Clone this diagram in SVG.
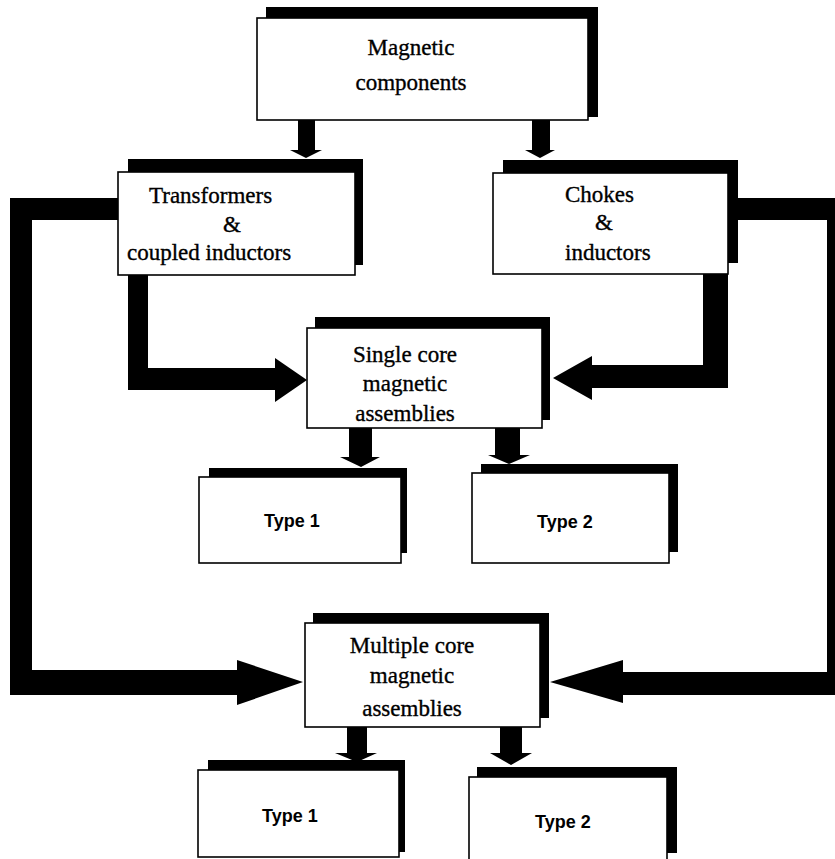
<svg xmlns="http://www.w3.org/2000/svg" width="835" height="859" viewBox="0 0 835 859">
  <style>
    .shadow { fill: #000; }
    .box { fill: #fff; stroke: #000; stroke-width: 1.6; }
    .serif { font-family: "Liberation Serif", "Times New Roman", serif; font-size: 23px; fill: #000; stroke: #000; stroke-width: 0.35; }
    .sans { font-family: "Liberation Sans", Arial, sans-serif; font-size: 18px; font-weight: bold; fill: #000; }
    .mid { text-anchor: middle; }
    .flow { fill: #000; stroke: none; }
  </style>
  <rect width="835" height="859" fill="#fff"/>

  <!-- thick connectors -->
  <g id="connectors">
    <!-- top box to the two families -->
    <polygon class="flow" points="298,120 315,120 315,150 322,150 306,158 290,150 298,150"/>
    <polygon class="flow" points="532,120 550,120 550,150 555,150 540,158 525,150 532,150"/>
    <!-- transformers to single core -->
    <polygon class="flow" points="128,274 148,274 148,368 275,368 275,358 307,380 275,402 275,390 128,390"/>
    <!-- chokes to single core -->
    <polygon class="flow" points="703,274 728,274 728,388 592,388 592,400 553,378 592,356 592,365 703,365"/>
    <!-- transformers to multiple core (outer loop) -->
    <polygon class="flow" points="118,198 118,220 32,220 32,670 237,670 237,660 303,682 237,705 237,695 10,695 10,198"/>
    <!-- chokes to multiple core (outer loop) -->
    <polygon class="flow" points="728,198 849,198 849,695 623,695 623,703 550,682 623,660 623,672 827,672 827,220 728,220"/>
    <!-- single core to its types -->
    <polygon class="flow" points="349,428 372,428 372,457 380,457 361,467 340,457 349,457"/>
    <polygon class="flow" points="495,428 520,428 520,455 530,455 509,464 488,455 495,455"/>
    <!-- multiple core to its types -->
    <polygon class="flow" points="347,727 367,727 367,753 377,753 357,762 335,753 347,753"/>
    <polygon class="flow" points="500,727 522,727 522,753 532,753 511,765 490,753 500,753"/>
  </g>

  <g id="magnetic-components">
    <rect class="shadow" x="266" y="7" width="332" height="110"/>
    <rect class="box" x="257" y="18" width="331" height="102"/>
    <text class="serif mid" x="411" y="55">Magnetic</text>
    <text class="serif mid" x="411" y="90">components</text>
  </g>

  <g id="transformers">
    <rect class="shadow" x="128" y="159" width="235" height="106"/>
    <rect class="box" x="118" y="172" width="237" height="103"/>
    <text class="serif" x="149" y="203">Transformers</text>
    <text class="serif" x="223" y="232">&amp;</text>
    <text class="serif" x="127" y="260">coupled inductors</text>
  </g>

  <g id="chokes">
    <rect class="shadow" x="503" y="160" width="235" height="103"/>
    <rect class="box" x="493" y="173" width="235" height="101"/>
    <text class="serif" x="565" y="202">Chokes</text>
    <text class="serif" x="595" y="230">&amp;</text>
    <text class="serif" x="565" y="260">inductors</text>
  </g>

  <g id="single-core">
    <rect class="shadow" x="315" y="317" width="235" height="103"/>
    <rect class="box" x="307" y="328" width="235" height="100"/>
    <text class="serif mid" x="405" y="362">Single core</text>
    <text class="serif mid" x="405" y="391">magnetic</text>
    <text class="serif mid" x="405" y="421">assemblies</text>
  </g>

  <g id="single-type-1">
    <rect class="shadow" x="209" y="468" width="198" height="85"/>
    <rect class="box" x="199" y="477" width="202" height="86"/>
    <text class="sans" x="264" y="527">Type 1</text>
  </g>

  <g id="single-type-2">
    <rect class="shadow" x="481" y="464" width="197" height="88"/>
    <rect class="box" x="472" y="473" width="197" height="90"/>
    <text class="sans" x="537" y="528">Type 2</text>
  </g>

  <g id="multiple-core">
    <rect class="shadow" x="313" y="613" width="236" height="105"/>
    <rect class="box" x="305" y="623" width="235" height="104"/>
    <text class="serif mid" x="412" y="653">Multiple core</text>
    <text class="serif mid" x="412" y="683">magnetic</text>
    <text class="serif mid" x="412" y="716">assemblies</text>
  </g>

  <g id="multiple-type-1">
    <rect class="shadow" x="208" y="760" width="197" height="92"/>
    <rect class="box" x="198" y="770" width="201" height="87"/>
    <text class="sans" x="262" y="822">Type 1</text>
  </g>

  <g id="multiple-type-2">
    <rect class="shadow" x="477" y="767" width="200" height="86"/>
    <rect class="box" x="469" y="777" width="198" height="90"/>
    <text class="sans" x="535" y="828">Type 2</text>
  </g>
</svg>
